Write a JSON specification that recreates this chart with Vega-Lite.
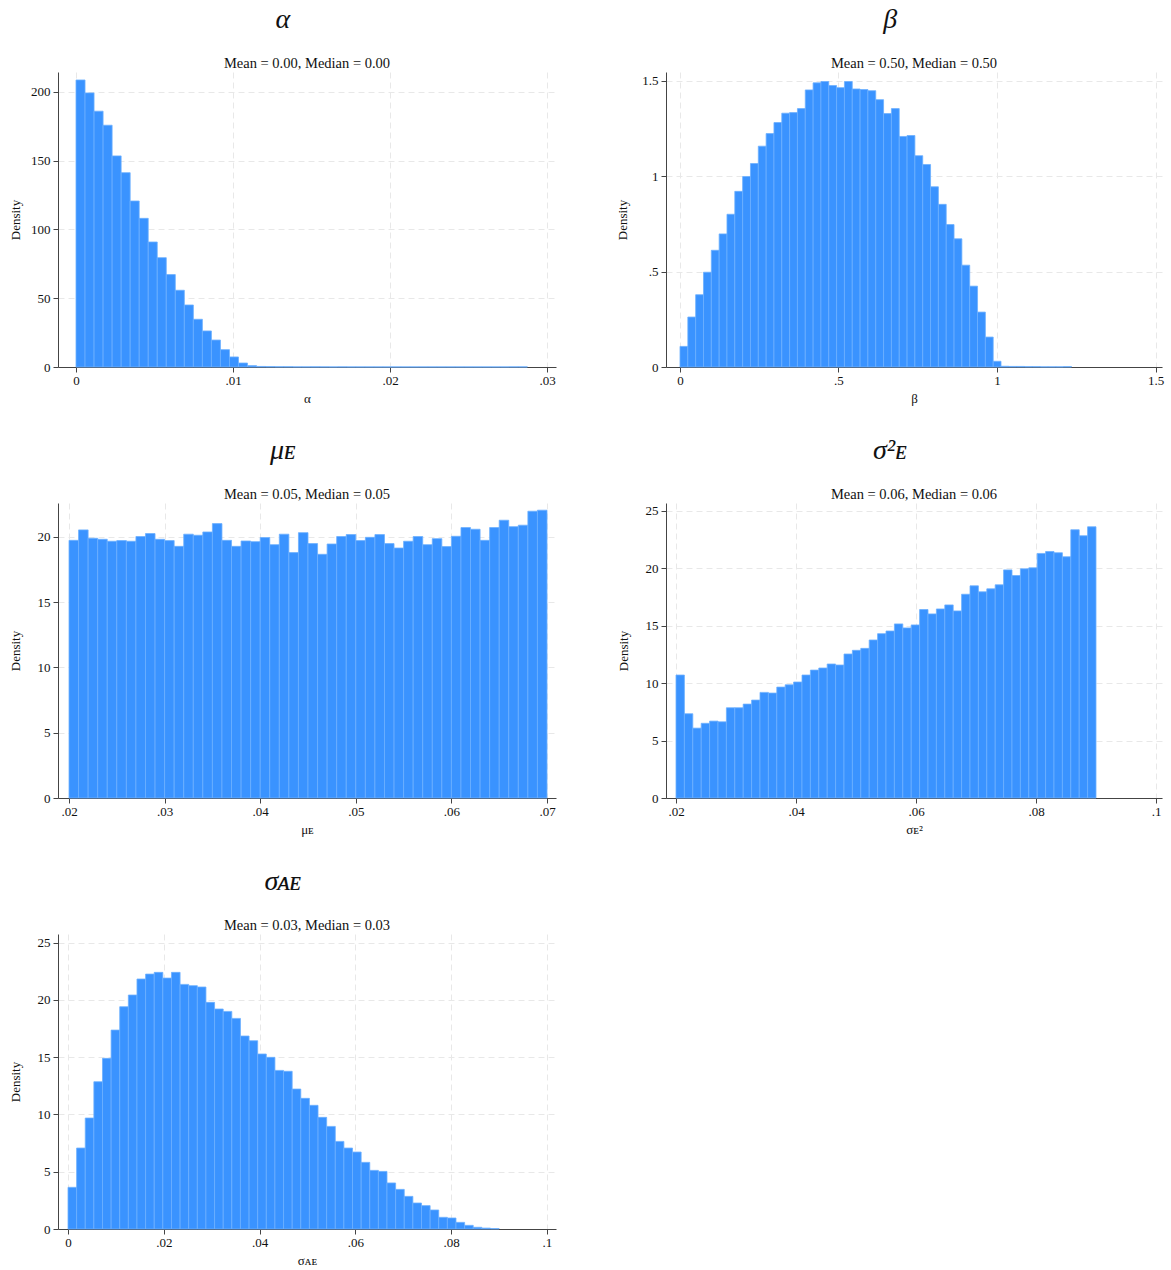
{
  "$schema": "https://vega.github.io/schema/vega-lite/v6.json",
  "background": "white",
  "padding": {"left": 9, "top": 5, "right": 5, "bottom": 5},
  "config": {
    "font": "Liberation Serif",
    "view": {"stroke": null},
    "title": {"font": "Liberation Serif", "fontWeight": "normal", "color": "#111111"},
    "axis": {
      "domainColor": "#444444", "tickColor": "#444444", "tickSize": 5,
      "labelFont": "Liberation Serif", "labelFontSize": 13, "labelColor": "#111111",
      "titleFont": "Liberation Serif", "titleFontSize": 13, "titleFontWeight": "normal", "titleColor": "#111111",
      "grid": true, "gridColor": "#e8e8e8", "gridDash": [6, 4],
      "labelExpr": "replace(toString(datum.value), '0.', '.')"
    },
    "axisX": {"labelPadding": 2, "titlePadding": 5, "labelFlush": false},
    "axisY": {"labelPadding": 3, "titlePadding": 8}
  },
  "datasets": {
    "alpha": [
      {"lo":0,"hi":0.000575,"d":208.7},{"lo":0.000575,"hi":0.00115,"d":199.3},{"lo":0.00115,"hi":0.001725,"d":186.0},{"lo":0.001725,"hi":0.0023,"d":175.8},{"lo":0.0023,"hi":0.002875,"d":153.5},
      {"lo":0.002875,"hi":0.00345,"d":141.3},{"lo":0.00345,"hi":0.004025,"d":120.7},{"lo":0.004025,"hi":0.0046,"d":108.1},{"lo":0.0046,"hi":0.005175,"d":90.9},{"lo":0.005175,"hi":0.00575,"d":79.5},
      {"lo":0.00575,"hi":0.006325,"d":67.2},{"lo":0.006325,"hi":0.0069,"d":55.8},{"lo":0.0069,"hi":0.007475,"d":45.1},{"lo":0.007475,"hi":0.00805,"d":34.7},{"lo":0.00805,"hi":0.008625,"d":26.2},
      {"lo":0.008625,"hi":0.0092,"d":19.6},{"lo":0.0092,"hi":0.009775,"d":12.6},{"lo":0.009775,"hi":0.01035,"d":7.3},{"lo":0.01035,"hi":0.010925,"d":2.9},{"lo":0.010925,"hi":0.0115,"d":1.0},
      {"lo":0.0115,"hi":0.012075,"d":0.4},{"lo":0.012075,"hi":0.01265,"d":0.3},{"lo":0.01265,"hi":0.013225,"d":0.2},{"lo":0.013225,"hi":0.0138,"d":0.2},{"lo":0.0138,"hi":0.014375,"d":0.1},
      {"lo":0.014375,"hi":0.01495,"d":0.1},{"lo":0.01495,"hi":0.015525,"d":0.1},{"lo":0.015525,"hi":0.0161,"d":0.1},{"lo":0.0161,"hi":0.016675,"d":0.05},{"lo":0.016675,"hi":0.01725,"d":0.1},
      {"lo":0.01725,"hi":0.017825,"d":0.05},{"lo":0.017825,"hi":0.0184,"d":0.05},{"lo":0.0184,"hi":0.018975,"d":0.05},{"lo":0.018975,"hi":0.01955,"d":0.05},{"lo":0.01955,"hi":0.020125,"d":0.05},
      {"lo":0.020125,"hi":0.0207,"d":0.05},{"lo":0.0207,"hi":0.021275,"d":0.05},{"lo":0.021275,"hi":0.02185,"d":0.05},{"lo":0.02185,"hi":0.022425,"d":0.05},{"lo":0.022425,"hi":0.023,"d":0.05},
      {"lo":0.023,"hi":0.023575,"d":0.05},{"lo":0.023575,"hi":0.02415,"d":0.05},{"lo":0.02415,"hi":0.024725,"d":0.05},{"lo":0.024725,"hi":0.0253,"d":0.05},{"lo":0.0253,"hi":0.025875,"d":0.05},
      {"lo":0.025875,"hi":0.02645,"d":0.05},{"lo":0.02645,"hi":0.027025,"d":0.05},{"lo":0.027025,"hi":0.0276,"d":0.05},{"lo":0.0276,"hi":0.028175,"d":0.1},{"lo":0.028175,"hi":0.02875,"d":0.1}
    ],
    "beta": [
      {"lo":0,"hi":0.0247,"d":0.108},{"lo":0.0247,"hi":0.0494,"d":0.262},{"lo":0.0494,"hi":0.0741,"d":0.379},{"lo":0.0741,"hi":0.0988,"d":0.497},{"lo":0.0988,"hi":0.1235,"d":0.612},
      {"lo":0.1235,"hi":0.1482,"d":0.698},{"lo":0.1482,"hi":0.1729,"d":0.801},{"lo":0.1729,"hi":0.1976,"d":0.921},{"lo":0.1976,"hi":0.2223,"d":0.999},{"lo":0.2223,"hi":0.247,"d":1.067},
      {"lo":0.247,"hi":0.2717,"d":1.158},{"lo":0.2717,"hi":0.2964,"d":1.224},{"lo":0.2964,"hi":0.3211,"d":1.282},{"lo":0.3211,"hi":0.3458,"d":1.331},{"lo":0.3458,"hi":0.3705,"d":1.334},
      {"lo":0.3705,"hi":0.3952,"d":1.355},{"lo":0.3952,"hi":0.4199,"d":1.453},{"lo":0.4199,"hi":0.4446,"d":1.490},{"lo":0.4446,"hi":0.4693,"d":1.497},{"lo":0.4693,"hi":0.494,"d":1.476},
      {"lo":0.494,"hi":0.5187,"d":1.465},{"lo":0.5187,"hi":0.5434,"d":1.497},{"lo":0.5434,"hi":0.5681,"d":1.458},{"lo":0.5681,"hi":0.5928,"d":1.455},{"lo":0.5928,"hi":0.6175,"d":1.449},
      {"lo":0.6175,"hi":0.6422,"d":1.402},{"lo":0.6422,"hi":0.6669,"d":1.329},{"lo":0.6669,"hi":0.6916,"d":1.355},{"lo":0.6916,"hi":0.7163,"d":1.209},{"lo":0.7163,"hi":0.741,"d":1.214},
      {"lo":0.741,"hi":0.7657,"d":1.108},{"lo":0.7657,"hi":0.7904,"d":1.062},{"lo":0.7904,"hi":0.8151,"d":0.945},{"lo":0.8151,"hi":0.8398,"d":0.853},{"lo":0.8398,"hi":0.8645,"d":0.747},
      {"lo":0.8645,"hi":0.8892,"d":0.672},{"lo":0.8892,"hi":0.9139,"d":0.534},{"lo":0.9139,"hi":0.9386,"d":0.424},{"lo":0.9386,"hi":0.9633,"d":0.288},{"lo":0.9633,"hi":0.988,"d":0.157},
      {"lo":0.988,"hi":1.0127,"d":0.030},{"lo":1.0127,"hi":1.0374,"d":0.004},{"lo":1.0374,"hi":1.0621,"d":0.003},{"lo":1.0621,"hi":1.0868,"d":0.003},{"lo":1.0868,"hi":1.1115,"d":0.002},
      {"lo":1.1115,"hi":1.1362,"d":0.002},{"lo":1.1362,"hi":1.1609,"d":0.001},{"lo":1.1609,"hi":1.1856,"d":0.001},{"lo":1.1856,"hi":1.2103,"d":0.001},{"lo":1.2103,"hi":1.235,"d":0.002}
    ],
    "muE": [
      {"lo":0.020,"hi":0.021,"d":19.74},{"lo":0.021,"hi":0.022,"d":20.54},{"lo":0.022,"hi":0.023,"d":19.90},{"lo":0.023,"hi":0.024,"d":19.82},{"lo":0.024,"hi":0.025,"d":19.67},
      {"lo":0.025,"hi":0.026,"d":19.72},{"lo":0.026,"hi":0.027,"d":19.67},{"lo":0.027,"hi":0.028,"d":20.03},{"lo":0.028,"hi":0.029,"d":20.26},{"lo":0.029,"hi":0.030,"d":19.82},
      {"lo":0.030,"hi":0.031,"d":19.72},{"lo":0.031,"hi":0.032,"d":19.28},{"lo":0.032,"hi":0.033,"d":20.21},{"lo":0.033,"hi":0.034,"d":20.13},{"lo":0.034,"hi":0.035,"d":20.38},
      {"lo":0.035,"hi":0.036,"d":21.02},{"lo":0.036,"hi":0.037,"d":19.74},{"lo":0.037,"hi":0.038,"d":19.28},{"lo":0.038,"hi":0.039,"d":19.69},{"lo":0.039,"hi":0.040,"d":19.64},
      {"lo":0.040,"hi":0.041,"d":19.95},{"lo":0.041,"hi":0.042,"d":19.41},{"lo":0.042,"hi":0.043,"d":20.21},{"lo":0.043,"hi":0.044,"d":18.80},{"lo":0.044,"hi":0.045,"d":20.33},
      {"lo":0.045,"hi":0.046,"d":19.49},{"lo":0.046,"hi":0.047,"d":18.67},{"lo":0.047,"hi":0.048,"d":19.46},{"lo":0.048,"hi":0.049,"d":20.03},{"lo":0.049,"hi":0.050,"d":20.18},
      {"lo":0.050,"hi":0.051,"d":19.72},{"lo":0.051,"hi":0.052,"d":19.97},{"lo":0.052,"hi":0.053,"d":20.18},{"lo":0.053,"hi":0.054,"d":19.49},{"lo":0.054,"hi":0.055,"d":19.15},
      {"lo":0.055,"hi":0.056,"d":19.67},{"lo":0.056,"hi":0.057,"d":20.03},{"lo":0.057,"hi":0.058,"d":19.41},{"lo":0.058,"hi":0.059,"d":19.87},{"lo":0.059,"hi":0.060,"d":19.26},
      {"lo":0.060,"hi":0.061,"d":20.05},{"lo":0.061,"hi":0.062,"d":20.72},{"lo":0.062,"hi":0.063,"d":20.59},{"lo":0.063,"hi":0.064,"d":19.74},{"lo":0.064,"hi":0.065,"d":20.72},
      {"lo":0.065,"hi":0.066,"d":21.28},{"lo":0.066,"hi":0.067,"d":20.79},{"lo":0.067,"hi":0.068,"d":20.90},{"lo":0.068,"hi":0.069,"d":21.97},{"lo":0.069,"hi":0.070,"d":22.05}
    ],
    "sigE2": [
      {"lo":0.02,"hi":0.0214,"d":10.70},{"lo":0.0214,"hi":0.0228,"d":7.33},{"lo":0.0228,"hi":0.0242,"d":6.08},{"lo":0.0242,"hi":0.0256,"d":6.50},{"lo":0.0256,"hi":0.027,"d":6.69},
      {"lo":0.027,"hi":0.0284,"d":6.63},{"lo":0.0284,"hi":0.0298,"d":7.85},{"lo":0.0298,"hi":0.0312,"d":7.85},{"lo":0.0312,"hi":0.0326,"d":8.17},{"lo":0.0326,"hi":0.034,"d":8.52},
      {"lo":0.034,"hi":0.0354,"d":9.19},{"lo":0.0354,"hi":0.0368,"d":9.13},{"lo":0.0368,"hi":0.0382,"d":9.65},{"lo":0.0382,"hi":0.0396,"d":9.85},{"lo":0.0396,"hi":0.041,"d":10.09},
      {"lo":0.041,"hi":0.0424,"d":10.70},{"lo":0.0424,"hi":0.0438,"d":11.13},{"lo":0.0438,"hi":0.0452,"d":11.31},{"lo":0.0452,"hi":0.0466,"d":11.66},{"lo":0.0466,"hi":0.048,"d":11.57},
      {"lo":0.048,"hi":0.0494,"d":12.53},{"lo":0.0494,"hi":0.0508,"d":12.85},{"lo":0.0508,"hi":0.0522,"d":13.02},{"lo":0.0522,"hi":0.0536,"d":13.75},{"lo":0.0536,"hi":0.055,"d":14.30},
      {"lo":0.055,"hi":0.0564,"d":14.53},{"lo":0.0564,"hi":0.0578,"d":15.15},{"lo":0.0578,"hi":0.0592,"d":14.80},{"lo":0.0592,"hi":0.0606,"d":15.06},{"lo":0.0606,"hi":0.062,"d":16.40},
      {"lo":0.062,"hi":0.0634,"d":16.02},{"lo":0.0634,"hi":0.0648,"d":16.45},{"lo":0.0648,"hi":0.0662,"d":16.80},{"lo":0.0662,"hi":0.0676,"d":16.28},{"lo":0.0676,"hi":0.069,"d":17.73},
      {"lo":0.069,"hi":0.0704,"d":18.46},{"lo":0.0704,"hi":0.0718,"d":17.94},{"lo":0.0718,"hi":0.0732,"d":18.20},{"lo":0.0732,"hi":0.0746,"d":18.55},{"lo":0.0746,"hi":0.076,"d":19.85},
      {"lo":0.076,"hi":0.0774,"d":19.36},{"lo":0.0774,"hi":0.0788,"d":19.94},{"lo":0.0788,"hi":0.0802,"d":20.03},{"lo":0.0802,"hi":0.0816,"d":21.28},{"lo":0.0816,"hi":0.083,"d":21.45},
      {"lo":0.083,"hi":0.0844,"d":21.34},{"lo":0.0844,"hi":0.0858,"d":20.99},{"lo":0.0858,"hi":0.0872,"d":23.34},{"lo":0.0872,"hi":0.0886,"d":22.82},{"lo":0.0886,"hi":0.09,"d":23.60}
    ],
    "sigAE": [
      {"lo":0,"hi":0.0018,"d":3.64},{"lo":0.0018,"hi":0.0036,"d":7.07},{"lo":0.0036,"hi":0.0054,"d":9.69},{"lo":0.0054,"hi":0.0072,"d":12.86},{"lo":0.0072,"hi":0.009,"d":14.90},
      {"lo":0.009,"hi":0.0108,"d":17.37},{"lo":0.0108,"hi":0.0126,"d":19.41},{"lo":0.0126,"hi":0.0144,"d":20.43},{"lo":0.0144,"hi":0.0162,"d":21.83},{"lo":0.0162,"hi":0.018,"d":22.26},
      {"lo":0.018,"hi":0.0198,"d":22.41},{"lo":0.0198,"hi":0.0216,"d":21.91},{"lo":0.0216,"hi":0.0234,"d":22.41},{"lo":0.0234,"hi":0.0252,"d":21.36},{"lo":0.0252,"hi":0.027,"d":21.25},
      {"lo":0.027,"hi":0.0288,"d":21.13},{"lo":0.0288,"hi":0.0306,"d":19.79},{"lo":0.0306,"hi":0.0324,"d":19.21},{"lo":0.0324,"hi":0.0342,"d":19.00},{"lo":0.0342,"hi":0.036,"d":18.39},
      {"lo":0.036,"hi":0.0378,"d":16.85},{"lo":0.0378,"hi":0.0396,"d":16.44},{"lo":0.0396,"hi":0.0414,"d":15.28},{"lo":0.0414,"hi":0.0432,"d":14.99},{"lo":0.0432,"hi":0.045,"d":13.85},
      {"lo":0.045,"hi":0.0468,"d":13.77},{"lo":0.0468,"hi":0.0486,"d":12.22},{"lo":0.0486,"hi":0.0504,"d":11.41},{"lo":0.0504,"hi":0.0522,"d":10.80},{"lo":0.0522,"hi":0.054,"d":9.75},
      {"lo":0.054,"hi":0.0558,"d":8.96},{"lo":0.0558,"hi":0.0576,"d":7.65},{"lo":0.0576,"hi":0.0594,"d":7.07},{"lo":0.0594,"hi":0.0612,"d":6.72},{"lo":0.0612,"hi":0.063,"d":5.82},
      {"lo":0.063,"hi":0.0648,"d":5.12},{"lo":0.0648,"hi":0.0666,"d":5.03},{"lo":0.0666,"hi":0.0684,"d":4.02},{"lo":0.0684,"hi":0.0702,"d":3.46},{"lo":0.0702,"hi":0.072,"d":2.85},
      {"lo":0.072,"hi":0.0738,"d":2.27},{"lo":0.0738,"hi":0.0756,"d":2.04},{"lo":0.0756,"hi":0.0774,"d":1.66},{"lo":0.0774,"hi":0.0792,"d":1.02},{"lo":0.0792,"hi":0.081,"d":0.96},
      {"lo":0.081,"hi":0.0828,"d":0.58},{"lo":0.0828,"hi":0.0846,"d":0.32},{"lo":0.0846,"hi":0.0864,"d":0.15},{"lo":0.0864,"hi":0.0882,"d":0.08},{"lo":0.0882,"hi":0.09,"d":0.04}
    ]
  },
  "columns": 2,
  "spacing": {"row": 31, "column": 60},
  "concat": [
    {
      "title": {"text": "α", "fontSize": 28, "fontStyle": "italic", "anchor": "middle", "frame": "bounds", "offset": 22},
      "vconcat": [{
        "title": {"text": "Mean = 0.00, Median = 0.00", "fontSize": 14.5, "anchor": "middle", "frame": "group", "offset": 1},
        "width": 498, "height": 295,
        "data": {"name": "alpha"},
        "mark": {"type": "rect", "color": "#3a93ff", "stroke": "#6cb0ff", "strokeWidth": 0.8},
        "encoding": {
          "x": {"field": "lo", "type": "quantitative", "scale": {"domain": [-0.0011465, 0.030573], "nice": false, "zero": false}, "axis": {"title": "α", "values": [0, 0.01, 0.02, 0.03]}},
          "x2": {"field": "hi"},
          "y": {"field": "d", "type": "quantitative", "scale": {"domain": [0, 214.5], "nice": false}, "axis": {"title": "Density", "values": [0, 50, 100, 150, 200]}},
          "y2": {"datum": 0}
        }
      }]
    },
    {
      "title": {"text": "β", "fontSize": 28, "fontStyle": "italic", "anchor": "middle", "frame": "bounds", "offset": 22},
      "vconcat": [{
        "title": {"text": "Mean = 0.50, Median = 0.50", "fontSize": 14.5, "anchor": "middle", "frame": "group", "offset": 1},
        "width": 496, "height": 295,
        "data": {"name": "beta"},
        "mark": {"type": "rect", "color": "#3a93ff", "stroke": "#6cb0ff", "strokeWidth": 0.8},
        "encoding": {
          "x": {"field": "lo", "type": "quantitative", "scale": {"domain": [-0.04416, 1.5205], "nice": false, "zero": false}, "axis": {"title": "β", "values": [0, 0.5, 1, 1.5]}},
          "x2": {"field": "hi"},
          "y": {"field": "d", "type": "quantitative", "scale": {"domain": [0, 1.547], "nice": false}, "axis": {"title": "Density", "titlePadding": 12, "values": [0, 0.5, 1, 1.5]}},
          "y2": {"datum": 0}
        }
      }]
    },
    {
      "title": {"text": "μᴇ", "fontSize": 28, "fontStyle": "italic", "anchor": "middle", "frame": "bounds", "offset": 22},
      "vconcat": [{
        "title": {"text": "Mean = 0.05, Median = 0.05", "fontSize": 14.5, "anchor": "middle", "frame": "group", "offset": 1},
        "width": 498, "height": 295,
        "data": {"name": "muE"},
        "mark": {"type": "rect", "color": "#3a93ff", "stroke": "#6cb0ff", "strokeWidth": 0.8},
        "encoding": {
          "x": {"field": "lo", "type": "quantitative", "scale": {"domain": [0.018849, 0.070941], "nice": false, "zero": false}, "axis": {"title": "μᴇ", "values": [0.02, 0.03, 0.04, 0.05, 0.06, 0.07]}},
          "x2": {"field": "hi"},
          "y": {"field": "d", "type": "quantitative", "scale": {"domain": [0, 22.6], "nice": false}, "axis": {"title": "Density", "titlePadding": 15, "values": [0, 5, 10, 15, 20]}},
          "y2": {"datum": 0}
        }
      }]
    },
    {
      "title": {"text": "σ²ᴇ", "fontSize": 28, "fontStyle": "italic", "anchor": "middle", "frame": "bounds", "offset": 22},
      "vconcat": [{
        "title": {"text": "Mean = 0.06, Median = 0.06", "fontSize": 14.5, "anchor": "middle", "frame": "group", "offset": 1},
        "width": 496, "height": 295,
        "data": {"name": "sigE2"},
        "mark": {"type": "rect", "color": "#3a93ff", "stroke": "#6cb0ff", "strokeWidth": 0.8},
        "encoding": {
          "x": {"field": "lo", "type": "quantitative", "scale": {"domain": [0.018333, 0.101], "nice": false, "zero": false}, "axis": {"title": "σᴇ²", "values": [0.02, 0.04, 0.06, 0.08, 0.1]}},
          "x2": {"field": "hi"},
          "y": {"field": "d", "type": "quantitative", "scale": {"domain": [0, 25.67], "nice": false}, "axis": {"title": "Density", "titlePadding": 15, "values": [0, 5, 10, 15, 20, 25]}},
          "y2": {"datum": 0}
        }
      }]
    },
    {
      "title": {"text": "σᴀᴇ", "fontSize": 28, "fontStyle": "italic", "anchor": "middle", "frame": "bounds", "offset": 22},
      "vconcat": [{
        "title": {"text": "Mean = 0.03, Median = 0.03", "fontSize": 14.5, "anchor": "middle", "frame": "group", "offset": 1},
        "width": 498, "height": 295,
        "data": {"name": "sigAE"},
        "mark": {"type": "rect", "color": "#3a93ff", "stroke": "#6cb0ff", "strokeWidth": 0.8},
        "encoding": {
          "x": {"field": "lo", "type": "quantitative", "scale": {"domain": [-0.002088, 0.101879], "nice": false, "zero": false}, "axis": {"title": "σᴀᴇ", "values": [0, 0.02, 0.04, 0.06, 0.08, 0.1]}},
          "x2": {"field": "hi"},
          "y": {"field": "d", "type": "quantitative", "scale": {"domain": [0, 25.76], "nice": false}, "axis": {"title": "Density", "titlePadding": 15, "values": [0, 5, 10, 15, 20, 25]}},
          "y2": {"datum": 0}
        }
      }]
    }
  ]
}
